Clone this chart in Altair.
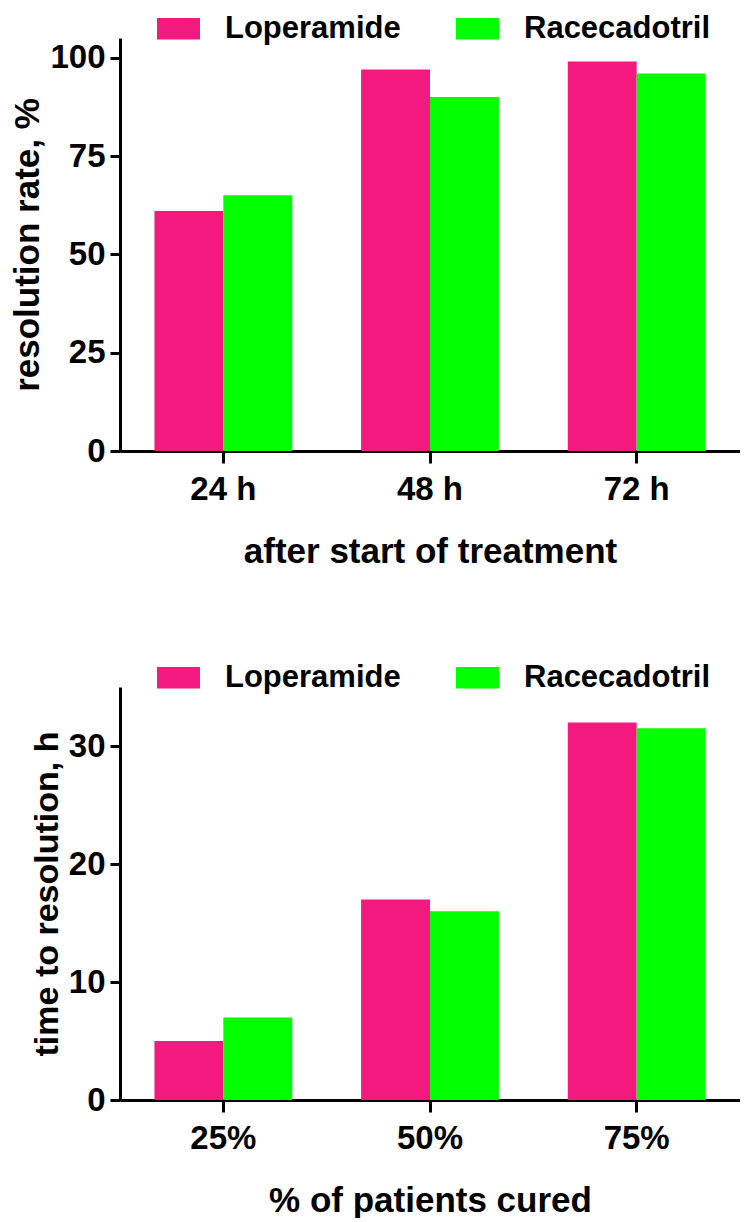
import altair as alt
import pandas as pd

drugs = ["Loperamide", "Racecadotril"]
colors = ["#F4197E", "#00FF00"]

times = ["24 h", "48 h", "72 h"]
rate_lop = [61, 97, 99]
rate_rac = [65, 90, 96]

cured = ["25%", "50%", "75%"]
time_lop = [5, 17, 32]
time_rac = [7, 16, 31.5]

FONT = "Liberation Sans"


def make_df(cats, a, b):
    rows = []
    for c, va, vb in zip(cats, a, b):
        rows.append({"cat": c, "drug": drugs[0], "value": va})
        rows.append({"cat": c, "drug": drugs[1], "value": vb})
    return pd.DataFrame(rows)


def panel(df, cats, xtitle, ytitle, ydomain, yticks, ytitle_pad, ytitle_size):
    legend = alt.Legend(
        title=None, orient="none", direction="horizontal",
        legendX=37, legendY=-31, padding=0,
        symbolType="M-1,-0.5H1V0.5H-1Z", symbolSize=1849,
        symbolStrokeWidth=0, symbolOpacity=1,
        labelFont=FONT, labelFontSize=31, labelFontWeight="bold",
        labelColor="black", labelOffset=25, columnPadding=55, labelLimit=0,
    )
    return alt.Chart(df).mark_bar().encode(
        x=alt.X("cat:N", sort=cats, title=xtitle,
                scale=alt.Scale(paddingInner=0, paddingOuter=0),
                axis=alt.Axis(labelAngle=0, tickSize=12, labelPadding=10,
                              titlePadding=28, titleFontSize=35, grid=False)),
        xOffset=alt.XOffset("drug:N", sort=drugs,
                            scale=alt.Scale(paddingInner=0, paddingOuter=0.5)),
        y=alt.Y("value:Q", title=ytitle,
                scale=alt.Scale(domain=ydomain, nice=False, zero=True),
                axis=alt.Axis(values=yticks, tickSize=10, labelPadding=5,
                              titlePadding=ytitle_pad, titleFontSize=ytitle_size,
                              grid=False)),
        color=alt.Color("drug:N", sort=drugs,
                        scale=alt.Scale(domain=drugs, range=colors),
                        legend=legend),
    ).properties(width=620, height=413)


top = panel(make_df(times, rate_lop, rate_rac), times,
            "after start of treatment", "resolution rate, %",
            [0, 105], [0, 25, 50, 75, 100], 4, 35)
bottom = panel(make_df(cured, time_lop, time_rac), cured,
               "% of patients cured", "time to resolution, h",
               [0, 35], [0, 10, 20, 30], 4, 34)

chart = alt.vconcat(top, bottom, spacing=87).resolve_scale(
    color="independent"
).resolve_legend(color="independent").properties(
    padding={"left": 2, "top": -1, "right": 0, "bottom": 0},
    background="white",
).configure_view(stroke=None).configure_axis(
    domainColor="black", domainWidth=3, tickColor="black", tickWidth=3,
    labelFont=FONT, labelFontSize=33, labelFontWeight="bold", labelColor="black",
    titleFont=FONT, titleFontSize=33, titleFontWeight="bold", titleColor="black",
)

chart.save("out.html", embed_options={"renderer": "svg", "actions": False})
